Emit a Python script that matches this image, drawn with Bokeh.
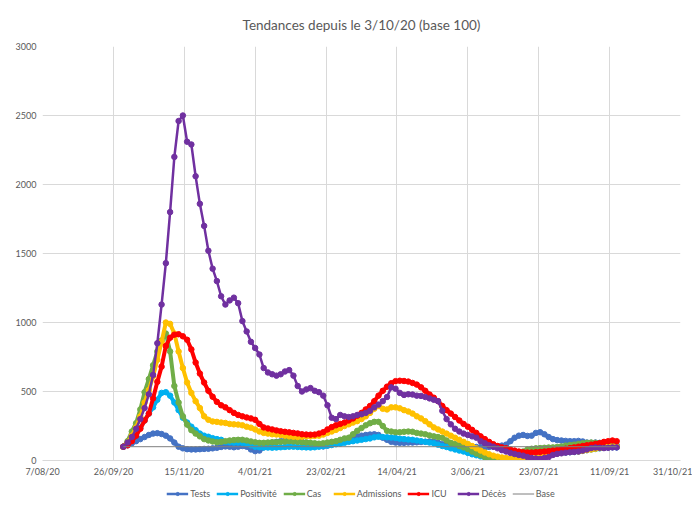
import pandas as pd
from bokeh.plotting import figure
from bokeh.layouts import column
from bokeh.models import FixedTicker, Legend, LegendItem, Range1d, ColumnDataSource, LinearAxis
from bokeh.embed import file_html
from bokeh.resources import INLINE

title_text = "Tendances depuis le 3/10/20 (base 100)"
start_date = "2020-10-03"
step = "3D"

tick_dates = ["2020-08-07", "2020-09-26", "2020-11-15", "2021-01-04", "2021-02-23",
              "2021-04-14", "2021-06-03", "2021-07-23", "2021-09-11", "2021-10-31"]
tick_labels = ["7/08/20", "26/09/20", "15/11/20", "4/01/21", "23/02/21",
               "14/04/21", "3/06/21", "23/07/21", "11/09/21", "31/10/21"]
y_ticks = [0, 500, 1000, 1500, 2000, 2500, 3000]

series_names = ["Tests", "Positivité", "Cas", "Admissions", "ICU", "Décès"]
series_colors = ["#4472C4", "#00B0F0", "#70AD47", "#FFC000", "#FF0000", "#7030A0"]
base_name = "Base"
base_value = 100

tests = [100, 110, 125, 140, 155, 170, 185, 195, 198, 192,
         180, 160, 130, 100, 88, 82, 80, 80, 82, 84,
         85, 88, 92, 98, 102, 100, 96, 100, 105, 100,
         80, 68, 72, 95, 120, 130, 135, 140, 145, 150,
         148, 140, 135, 130, 120, 110, 105, 102, 108, 118,
         130, 140, 150, 158, 168, 175, 180, 185, 188, 190,
         185, 165, 150, 135, 130, 128, 128, 130, 130, 132,
         134, 136, 138, 135, 128, 118, 108, 112, 115, 110,
         105, 100, 98, 98, 97, 96, 98, 100, 102, 108,
         115, 140, 165, 180, 185, 178, 180, 200, 205, 190,
         170, 155, 148, 145, 142, 140, 140, 142, 138, 130,
         128, 130, 128, 125, 122, 115, 110]

positivite = [100, 120, 150, 190, 235, 290, 340, 385, 440, 490,
              495, 470, 420, 365, 310, 275, 245, 220, 195, 180,
              172, 162, 155, 150, 135, 132, 130, 130, 128, 122,
              110, 100, 96, 94, 94, 93, 94, 96, 98, 100,
              100, 98, 96, 95, 94, 96, 100, 104, 108, 112,
              118, 122, 128, 135, 140, 145, 150, 155, 160, 168,
              172, 170, 168, 166, 163, 158, 155, 152, 150, 145,
              140, 135, 130, 125, 115, 105, 98, 88, 80, 72,
              65, 55, 45, 38, 30, 22, 15, 10, 6, 4,
              3, 3, 4, 5, 6, 8, 12, 18, 25, 35,
              42, 48, 52, 56, 58, 60, 62, 65, 70, 75,
              80, 84, 88, 92, 95, 96, 95]

cas = [100, 140, 210, 270, 370, 495, 590, 690, 790, 870,
       920, 790, 540, 420, 320, 260, 220, 195, 175, 155,
       145, 138, 132, 135, 140, 145, 148, 150, 150, 145,
       138, 132, 128, 128, 130, 132, 133, 135, 137, 140,
       138, 135, 132, 130, 128, 125, 122, 125, 130, 135,
       140, 150, 160, 165, 190, 215, 235, 255, 270, 280,
       280, 250, 215, 210, 205, 205, 208, 210, 208, 200,
       195, 190, 182, 175, 170, 165, 145, 128, 118, 105,
       95, 82, 65, 50, 38, 25, 15, 8, 3, 2,
       3, 6, 20, 45, 65, 80, 85, 88, 90, 92,
       94, 95, 98, 102, 108, 112, 115, 120, 125, 128,
       130, 128, 125, 118, 112, 106, 102]

admissions = [100, 130, 180, 240, 320, 420, 510, 610, 730, 860,
              1000, 990, 920, 790, 670, 565, 490, 430, 380, 320,
              295, 283, 280, 275, 272, 265, 262, 260, 255, 245,
              238, 225, 210, 200, 195, 190, 188, 185, 180, 175,
              172, 170, 172, 175, 175, 178, 180, 188, 200, 210,
              222, 235, 250, 262, 275, 285, 300, 320, 345, 375,
              395, 375, 370, 385, 385, 378, 365, 355, 340, 320,
              305, 285, 262, 240, 225, 210, 195, 180, 165, 150,
              135, 120, 105, 88, 72, 58, 45, 35, 28, 22,
              18, 14, 10, 8, 7, 8, 12, 18, 24, 30,
              38, 45, 52, 58, 62, 64, 65, 66, 70, 75,
              80, 85, 90, 95, 100, 102, 100]

icu = [100, 110, 140, 180, 230, 290, 340, 450, 570, 680,
       830, 890, 912, 915, 900, 875, 805, 710, 630, 565,
       505, 462, 425, 400, 385, 365, 345, 330, 320, 312,
       305, 295, 265, 240, 232, 225, 218, 212, 208, 204,
       200, 196, 190, 188, 187, 188, 195, 205, 225, 242,
       255, 265, 275, 290, 305, 325, 345, 370, 395, 430,
       470, 505, 535, 560, 575, 578, 576, 572, 562, 550,
       530, 505, 478, 455, 430, 395, 365, 340, 315, 290,
       265, 245, 222, 200, 175, 155, 135, 118, 105, 95,
       88, 80, 72, 65, 60, 58, 58, 60, 62, 65,
       68, 72, 75, 80, 85, 90, 95, 100, 105, 110,
       115, 120, 125, 135, 140, 145, 140]

deces = [100, 130, 170, 230, 300, 380, 480, 620, 850, 1130,
         1430, 1800, 2200, 2460, 2500, 2310, 2290, 2060, 1860, 1700,
         1520, 1390, 1300, 1190, 1130, 1160, 1180, 1140, 1010, 935,
         860, 815, 768, 670, 638, 625, 615, 625, 645, 655,
         615, 540, 500, 515, 525, 505, 495, 470, 400, 310,
         300, 330, 320, 315, 320, 330, 335, 345, 360, 385,
         405, 430, 460, 530, 520, 490, 475, 480, 478, 470,
         468, 460, 450, 440, 430, 360, 300, 262, 230, 210,
         195, 185, 175, 165, 140, 125, 110, 100, 88, 75,
         65, 55, 47, 40, 35, 25, 18, 14, 12, 18,
         25, 40, 48, 52, 57, 60, 62, 65, 72, 80,
         90, 94, 92, 90, 92, 95, 95]

series_values = [tests, positivite, cas, admissions, icu, deces]

n = len(tests)
dates = pd.date_range(start_date, periods=n, freq=step)


def ms(d):
    return float(pd.Timestamp(d).value // 10**6)


FONT = "Lato"
TXT = "#595959"
GRID = "#D9D9D9"
TOTAL_W = 692

p = figure(frame_width=638, frame_height=414, x_axis_type="datetime",
           x_range=Range1d(ms(tick_dates[0]), ms(tick_dates[-1])),
           y_range=Range1d(y_ticks[0], y_ticks[-1]),
           output_backend="svg", toolbar_location=None,
           min_border_left=42, min_border_right=12, min_border_top=46,
           min_border_bottom=0)

p.outline_line_color = None
xa = p.below[0]
ya = p.left[0]
xa.ticker = FixedTicker(ticks=[ms(d) for d in tick_dates])
xa.major_label_overrides = {ms(d): lab for d, lab in zip(tick_dates, tick_labels)}
ya.ticker = FixedTicker(ticks=y_ticks)
for ax in (xa, ya):
    ax.major_tick_line_color = None
    ax.minor_tick_line_color = None
    ax.major_tick_out = 0
    ax.major_tick_in = 0
    ax.minor_tick_out = 0
    ax.major_label_text_font = FONT
    ax.major_label_text_font_size = "9px"
    ax.major_label_text_color = TXT
xa.axis_line_color = GRID
ya.axis_line_color = None
xa.major_label_standoff = 5
ya.major_label_standoff = 6
p.xgrid.ticker = xa.ticker
p.ygrid.ticker = ya.ticker
p.grid.grid_line_color = GRID
p.grid.grid_line_width = 1

# title drawn as the label of an empty axis above the frame
title_axis = LinearAxis(ticker=FixedTicker(ticks=[]), axis_line_color=None,
                        major_tick_out=0, major_tick_in=0, minor_tick_out=0,
                        major_tick_line_color=None, minor_tick_line_color=None,
                        major_label_text_font_size="0px", major_label_standoff=0,
                        axis_label=title_text, axis_label_standoff=14,
                        axis_label_text_font=FONT, axis_label_text_font_size="13.5px",
                        axis_label_text_font_style="normal", axis_label_text_color=TXT)
p.add_layout(title_axis, "above")

# legend strip below the chart; it reuses the series sources but its y view
# lies below zero, so only the legend swatches are seen there
lg = figure(width=TOTAL_W, height=28, output_backend="svg", toolbar_location=None,
            x_range=p.x_range, y_range=Range1d(-2000, -1000),
            x_axis_location=None, y_axis_location=None,
            min_border_left=38, min_border_right=0, min_border_top=0, min_border_bottom=0)
lg.outline_line_color = None
lg.xgrid.visible = False
lg.ygrid.visible = False

items = []
for name, color, vals in zip(series_names, series_colors, series_values):
    src = ColumnDataSource(dict(x=dates, y=vals))
    lw = 2.5 if name == "Décès" else 4
    p.line("x", "y", source=src, line_color=color, line_width=lw)
    p.scatter("x", "y", source=src, marker="circle", size=5.5,
              fill_color=color, line_color=color)
    ln = lg.line("x", "y", source=src, line_color=color, line_width=2.5)
    sc = lg.scatter("x", "y", source=src, marker="circle", size=5.5,
                    fill_color=color, line_color=color)
    items.append(LegendItem(label=name, renderers=[ln, sc]))

base_src = ColumnDataSource(dict(x=[dates[0], dates[-1]], y=[base_value, base_value]))
p.line("x", "y", source=base_src, line_color="#7F7F7F", line_width=1)
bl = lg.line("x", "y", source=base_src, line_color="#7F7F7F", line_width=1)
items.append(LegendItem(label=base_name, renderers=[bl]))

legend = Legend(items=items, orientation="horizontal", location="center",
                label_text_font=FONT, label_text_font_size="9px",
                label_text_color=TXT, border_line_color=None,
                background_fill_alpha=0, glyph_width=22, glyph_height=8,
                label_height=8, spacing=6, padding=1, margin=0, label_standoff=2)
lg.add_layout(legend, "center")

layout = column(p, lg, spacing=0)
open("out.html", "w").write(file_html(layout, INLINE))
